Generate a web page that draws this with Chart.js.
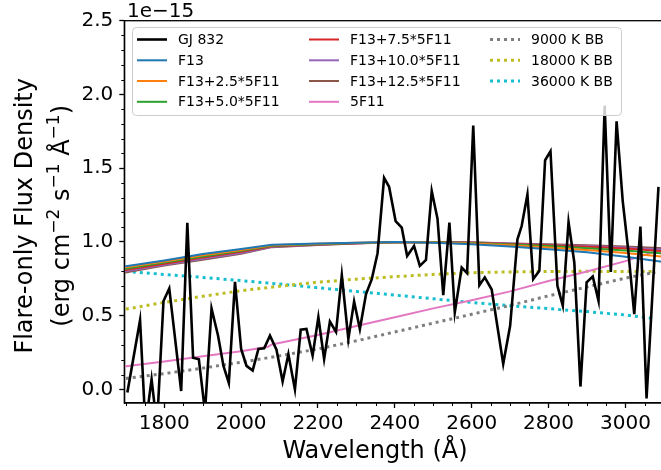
<!DOCTYPE html>
<html><head><meta charset="utf-8">
<script src="https://cdn.jsdelivr.net/npm/chart.js@4.4.1/dist/chart.umd.min.js"></script>
<style>html,body{margin:0;padding:0;background:#fff;overflow:hidden}#wrap{width:661px;height:470px;overflow:hidden;position:relative}canvas{display:block}</style>
</head><body><div id="wrap"><canvas id="c" width="680" height="470"></canvas></div>
<script>
// ---------------- data ----------------
const gjWave = [1704,1737,1751,1767,1781,1798,1813,1844,1860,1875,1890,1906,1923,1940,1954,1968,1984,2000,2014,2030,2045,2060,2075,2092,2108,2123,2140,2155,2170,2186,2201,2216,2231,2247,2262,2279,2294,2309,2325,2340,2355,2372,2385,2402,2418,2432,2450,2465,2481,2496,2511,2526,2542,2556,2574,2588,2604,2620,2634,2652,2682,2700,2719,2730,2745,2760,2776,2791,2805,2823,2837,2852,2867,2883,2899,2915,2930,2946,2962,2977,2993,3007,3023,3039,3055,3086];
const gjFlux = [-0.02,0.47,-0.25,0.07,-0.25,0.60,0.685,-0.01,1.13,0.215,0.205,-0.15,0.55,0.365,0.16,0.045,0.73,0.275,0.16,0.128,0.275,0.28,0.365,0.27,0.054,0.24,0.0,0.405,0.41,0.23,0.49,0.207,0.46,0.39,0.775,0.343,0.597,0.41,0.647,0.748,0.924,1.435,1.374,1.142,1.097,0.905,0.973,0.838,0.878,1.345,1.158,0.64,1.131,0.523,0.827,0.789,1.789,0.707,0.76,0.678,0.174,0.432,1.018,1.108,1.322,0.748,0.804,1.554,1.615,0.703,0.568,1.135,0.861,0.02,0.726,0.766,0.601,1.924,0.797,1.818,1.277,0.951,0.511,1.104,-0.06,1.374];

const modelWave = [1690,1800,1900,2000,2080,2200,2300,2400,2500,2600,2700,2800,2900,3000,3100];
const f13      = [0.832,0.875,0.918,0.953,0.982,0.990,0.995,1.000,0.995,0.985,0.970,0.950,0.930,0.900,0.865];
const f13p2_5  = [0.825,0.868,0.910,0.946,0.978,0.988,0.994,0.999,0.997,0.990,0.978,0.962,0.945,0.925,0.900];
const f13p5_0  = [0.815,0.860,0.902,0.940,0.975,0.985,0.993,0.999,0.998,0.993,0.983,0.972,0.958,0.942,0.922];
const f13p7_5  = [0.806,0.853,0.895,0.933,0.971,0.983,0.992,0.999,0.999,0.995,0.987,0.978,0.967,0.955,0.938];
const f13p10_0 = [0.798,0.846,0.887,0.926,0.968,0.981,0.991,0.998,1.000,0.997,0.989,0.982,0.973,0.963,0.948];
const f13p12_5 = [0.790,0.840,0.880,0.920,0.965,0.980,0.990,0.998,1.000,0.998,0.990,0.985,0.978,0.970,0.957];
const pinkWave = [1690,1800,1900,2000,2070,2080,2200,2300,2400,2500,2600,2700,2800,2900,3000,3100];
const f11x5    = [0.155,0.190,0.225,0.260,0.290,0.305,0.370,0.430,0.490,0.550,0.605,0.665,0.735,0.800,0.870,0.955];

const bbWave   = [1700,1800,1900,2000,2100,2200,2300,2400,2500,2600,2700,2800,2900,3000,3078];
const bb9000   = [0.075,0.108,0.145,0.185,0.228,0.275,0.330,0.390,0.450,0.510,0.570,0.635,0.695,0.755,0.795];
const bb18000  = [0.545,0.590,0.632,0.670,0.700,0.728,0.748,0.765,0.780,0.792,0.797,0.800,0.801,0.800,0.800];
const bb36000  = [0.800,0.780,0.760,0.738,0.715,0.690,0.665,0.640,0.615,0.590,0.568,0.548,0.528,0.505,0.480];

const xTicks = [1800,2000,2200,2400,2600,2800,3000];
const xTickLabels = ['1800','2000','2200','2400','2600','2800','3000'];
const yTicks = [0,0.5,1.0,1.5,2.0,2.5];
const yTickLabels = ['0.0','0.5','1.0','1.5','2.0','2.5'];
const seriesNames = ['GJ 832','F13','F13+2.5*5F11','F13+5.0*5F11','F13+7.5*5F11','F13+10.0*5F11','F13+12.5*5F11','5F11','9000 K BB','18000 K BB','36000 K BB'];
const xTitle = 'Wavelength (\u00c5)';
const yTitle1 = 'Flare-only Flux Density';
// [text, isSuperscript]
const yTitle2 = [['(erg cm',0],['\u22122',1],[' s',0],['\u22121',1],[' \u00c5',0],['\u22121',1],[')',0]];
const offsetText = '1e\u221215';

// ---------------- build ----------------
const pts = (xs, ys) => xs.map((x,i)=>({x, y: ys[i]}));
const FONT = "'DejaVu Sans', 'Liberation Sans', sans-serif";
const solid = (label, data, color, w) => ({label, data, borderColor: color, backgroundColor: color, borderWidth: w, pointRadius: 0, tension: 0, fill: false});
const dotted = (label, data, color) => ({label, data, borderColor: color, backgroundColor: color, borderWidth: 3, borderDash: [3,4], borderCapStyle: 'butt', pointRadius: 0, tension: 0, fill: false});

const datasets = [
  solid(seriesNames[0], pts(gjWave, gjFlux), '#000000', 2.6),
  solid(seriesNames[1], pts(modelWave, f13), '#1f77b4', 2),
  solid(seriesNames[2], pts(modelWave, f13p2_5), '#ff7f0e', 2),
  solid(seriesNames[3], pts(modelWave, f13p5_0), '#2ca02c', 2),
  solid(seriesNames[4], pts(modelWave, f13p7_5), '#d62728', 2),
  solid(seriesNames[5], pts(modelWave, f13p10_0), '#9467bd', 2),
  solid(seriesNames[6], pts(modelWave, f13p12_5), '#8c564b', 2),
  solid(seriesNames[7], pts(pinkWave, f11x5), '#e377c2', 2),
  dotted(seriesNames[8], pts(bbWave, bb9000), '#7f7f7f'),
  dotted(seriesNames[9], pts(bbWave, bb18000), '#bcbd22'),
  dotted(seriesNames[10], pts(bbWave, bb36000), '#17becf'),
];

const X_MIN = 1696, X_MAX = 3116, Y_MIN = -0.0915, Y_MAX = 2.5;

const decorPlugin = {
  id: 'decor',
  afterDatasetsDraw(chart) {
    const ctx = chart.ctx, a = chart.chartArea;
    const xs = chart.scales.x, ys = chart.scales.y;
    ctx.save();
    // frame
    ctx.strokeStyle = '#000'; ctx.lineWidth = 1.3;
    ctx.strokeRect(a.left, a.top, a.right - a.left, a.bottom - a.top);
    // minor ticks
    ctx.lineWidth = 1;
    ctx.beginPath();
    for (let v = 1700; v <= X_MAX; v += 50) {
      if (v % 200 === 0) continue;
      const px = Math.round(xs.getPixelForValue(v)) + 0.5;
      ctx.moveTo(px, a.bottom); ctx.lineTo(px, a.bottom + 3);
    }
    for (let k = 0; k <= 25; k++) {
      if (k % 5 === 0) continue;
      const py = Math.round(ys.getPixelForValue(k / 10)) + 0.5;
      ctx.moveTo(a.left, py); ctx.lineTo(a.left - 3, py);
    }
    ctx.stroke();
    // legend
    const bx = 132.5, by = 27.5, bw = 489, bh = 88, r = 4;
    ctx.beginPath();
    ctx.moveTo(bx + r, by); ctx.lineTo(bx + bw - r, by); ctx.quadraticCurveTo(bx + bw, by, bx + bw, by + r);
    ctx.lineTo(bx + bw, by + bh - r); ctx.quadraticCurveTo(bx + bw, by + bh, bx + bw - r, by + bh);
    ctx.lineTo(bx + r, by + bh); ctx.quadraticCurveTo(bx, by + bh, bx, by + bh - r);
    ctx.lineTo(bx, by + r); ctx.quadraticCurveTo(bx, by, bx + r, by);
    ctx.closePath();
    ctx.fillStyle = 'rgba(255,255,255,0.8)'; ctx.fill();
    ctx.strokeStyle = '#cccccc'; ctx.lineWidth = 1; ctx.stroke();
    const colX = [137, 309, 490];
    const rowY = [39.5, 60.3, 81, 101.8];
    ctx.font = '14px ' + FONT; ctx.textBaseline = 'middle'; ctx.textAlign = 'left';
    chart.data.datasets.forEach((ds, i) => {
      const c = Math.floor(i / 4), rr = i % 4;
      const x0 = colX[c], y0 = rowY[rr];
      ctx.save();
      ctx.strokeStyle = ds.borderColor; ctx.lineWidth = ds.borderWidth;
      ctx.setLineDash(ds.borderDash || []); ctx.lineCap = 'butt';
      ctx.beginPath(); ctx.moveTo(x0, y0); ctx.lineTo(x0 + 30, y0); ctx.stroke();
      ctx.restore();
      ctx.fillStyle = '#000';
      ctx.fillText(ds.label, x0 + 41, y0 + 1);
    });
    // offset text and x title
    ctx.fillStyle = '#000';
    ctx.font = '20px ' + FONT; ctx.textAlign = 'left'; ctx.textBaseline = 'alphabetic';
    ctx.fillText(offsetText, 127, 17);
    ctx.font = '24px ' + FONT; ctx.textAlign = 'center'; ctx.textBaseline = 'middle';
    ctx.fillText(xTitle, 375, 452);
    // y title (rotated, with superscripts)
    const cy = (a.top + a.bottom) / 2 + 4;
    ctx.save();
    ctx.translate(32, cy); ctx.rotate(-Math.PI / 2);
    ctx.font = '24px ' + FONT; ctx.textAlign = 'center'; ctx.textBaseline = 'alphabetic';
    ctx.fillText(yTitle1, 0, 0);
    ctx.restore();
    ctx.save();
    ctx.translate(69, cy); ctx.rotate(-Math.PI / 2);
    ctx.textAlign = 'left'; ctx.textBaseline = 'alphabetic';
    const fBase = '24px ' + FONT, fSup = '17px ' + FONT;
    let total = 0;
    yTitle2.forEach(([t, s]) => { ctx.font = s ? fSup : fBase; total += ctx.measureText(t).width; });
    let xx = -total / 2;
    yTitle2.forEach(([t, s]) => {
      ctx.font = s ? fSup : fBase;
      ctx.fillText(t, xx, s ? -10 : 0);
      xx += ctx.measureText(t).width;
    });
    ctx.restore();
    ctx.restore();
  }
};

new Chart(document.getElementById('c'), {
  type: 'line',
  data: { datasets },
  options: {
    responsive: false, animation: false, devicePixelRatio: 1,
    layout: { padding: { left: 0, top: 20.7, right: 10, bottom: 0 } },
    plugins: { legend: { display: false }, tooltip: { enabled: false } },
    scales: {
      x: {
        type: 'linear', min: X_MIN, max: X_MAX,
        afterFit: s => { s.height = 67; },
        afterBuildTicks: s => { s.ticks = xTicks.map(v => ({ value: v })); },
        grid: { display: true, drawOnChartArea: false, drawTicks: true, tickLength: 5, tickColor: '#000', tickWidth: 1.3 },
        border: { display: true, color: '#000', width: 1.3 },
        ticks: { color: '#000', font: { family: FONT, size: 20 }, padding: 4, maxRotation: 0, autoSkip: false,
          callback: (v) => { const i = xTicks.indexOf(v); return i >= 0 ? xTickLabels[i] : ''; } }
      },
      y: {
        type: 'linear', min: Y_MIN, max: Y_MAX,
        afterFit: s => { s.width = 124.3; },
        afterBuildTicks: s => { s.ticks = yTicks.map(v => ({ value: v })); },
        grid: { display: true, drawOnChartArea: false, drawTicks: true, tickLength: 5, tickColor: '#000', tickWidth: 1.3 },
        border: { display: true, color: '#000', width: 1.3 },
        ticks: { color: '#000', font: { family: FONT, size: 20 }, padding: 6, autoSkip: false,
          callback: (v) => { const i = yTicks.findIndex(t => Math.abs(t - v) < 1e-9); return i >= 0 ? yTickLabels[i] : ''; } }
      }
    }
  },
  plugins: [decorPlugin]
});
</script></body></html>
